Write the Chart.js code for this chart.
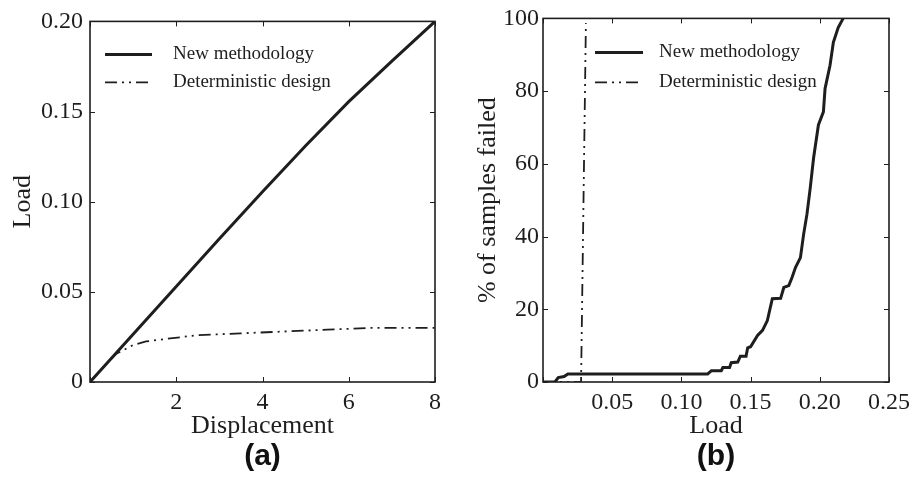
<!DOCTYPE html>
<html>
<head>
<meta charset="utf-8">
<script src="https://cdn.jsdelivr.net/npm/chart.js@4/dist/chart.umd.min.js"></script>
<style>
  body { margin: 0; background: #fff; }
  #wrap { position: relative; width: 916px; height: 486px; }
  canvas { position: absolute; top: 0; }
</style>
</head>
<body>
<div id="wrap">
  <canvas id="chartA" width="458" height="486" style="left:0"></canvas>
  <canvas id="chartB" width="458" height="486" style="left:458px"></canvas>
</div>
<script>
// (a) load vs displacement
var dispNew = [0, 1, 2, 3, 4, 5, 6, 7, 8];
var loadNew = [0, 0.0265, 0.053, 0.0795, 0.1055, 0.131, 0.1555, 0.178, 0.200];
var dispDet = [0, 0.3, 0.6, 0.8, 1.0, 1.3, 1.8, 2.5, 3.5, 4.5, 5.5, 6.5, 8];
var loadDet = [0, 0.008, 0.0155, 0.018, 0.0205, 0.0225, 0.024, 0.026, 0.027, 0.028, 0.029, 0.030, 0.030];

// (b) % of samples failed vs load
var loadFailNew = [0, 0.0086, 0.011, 0.0152, 0.018, 0.119, 0.1217, 0.1288, 0.130, 0.1348, 0.136, 0.1407, 0.1426,
  0.1467, 0.1479, 0.150, 0.155, 0.1586, 0.1621, 0.1657, 0.1717, 0.174, 0.1776, 0.180, 0.1824, 0.186, 0.1883,
  0.1907, 0.1931, 0.1955, 0.199, 0.2026, 0.2038, 0.2074, 0.2098, 0.2133, 0.2169];
var pctFailNew = [0, 0, 1.2, 1.5, 2.2, 2.2, 3.1, 3.1, 4.0, 4.0, 5.3, 5.5, 7.1,
  7.1, 9.4, 9.7, 12.8, 14.2, 16.9, 22.9, 23.0, 26.0, 26.5, 28.8, 31.5, 34.2, 40.6,
  46.1, 53.4, 61.6, 70.7, 74.3, 80.7, 87.1, 93.4, 97.5, 100];
var loadFailDet = [0, 0.0275, 0.031];
var pctFailDet = [0, 0, 98.7];

var seriesNames = ['New methodology', 'Deterministic design'];
var dashDotDot = [12, 5, 2, 5, 2, 5];
var ink = '#1e1e1e';
var serif = 'Liberation Serif';

function toPoints(xs, ys) {
  return xs.map(function(v, i) { return {x: v, y: ys[i]}; });
}

// box around the plot with inward ticks on all four sides, plus legend
function makeDecor(legend) {
  return {
    id: 'decor',
    afterDatasetsDraw: function(chart) {
      var ctx = chart.ctx, a = chart.chartArea;
      var xs = chart.scales.x, ys = chart.scales.y;
      ctx.save();
      ctx.strokeStyle = ink;
      ctx.lineWidth = 1;
      xs.ticks.forEach(function(t) {
        var px = Math.round(xs.getPixelForValue(t.value)) + 0.5;
        ctx.beginPath();
        ctx.moveTo(px, a.bottom); ctx.lineTo(px, a.bottom - 5);
        ctx.moveTo(px, a.top); ctx.lineTo(px, a.top + 5);
        ctx.stroke();
      });
      ys.ticks.forEach(function(t) {
        var py = Math.round(ys.getPixelForValue(t.value)) + 0.5;
        ctx.beginPath();
        ctx.moveTo(a.left, py); ctx.lineTo(a.left + 5, py);
        ctx.moveTo(a.right, py); ctx.lineTo(a.right - 5, py);
        ctx.stroke();
      });
      ctx.lineWidth = 1.6;
      ctx.strokeRect(a.left, a.top, a.right - a.left, a.bottom - a.top);

      // legend
      ctx.font = '19px "' + serif + '"';
      ctx.fillStyle = ink;
      ctx.textBaseline = 'middle';
      chart.data.datasets.forEach(function(ds, i) {
        var y = a.top + legend.y0 + i * legend.dy;
        ctx.beginPath();
        ctx.lineWidth = ds.borderWidth;
        ctx.setLineDash(ds.borderDash || []);
        ctx.moveTo(a.left + legend.x0, y);
        ctx.lineTo(a.left + legend.x1, y);
        ctx.stroke();
        ctx.setLineDash([]);
        ctx.fillText(ds.label, a.left + legend.tx, y);
      });
      ctx.restore();
    }
  };
}

function makeChart(id, cfg) {
  return new Chart(document.getElementById(id), {
    type: 'scatter',
    data: {
      datasets: [{
        label: seriesNames[0],
        data: cfg.newData,
        showLine: true,
        borderColor: ink,
        borderWidth: 3,
        pointRadius: 0,
        tension: 0
      }, {
        label: seriesNames[1],
        data: cfg.detData,
        showLine: true,
        borderColor: ink,
        borderWidth: 1.8,
        borderDash: dashDotDot,
        pointRadius: 0,
        tension: 0
      }]
    },
    options: {
      responsive: false,
      animation: false,
      layout: { padding: { top: cfg.top, right: 23, left: 0, bottom: 0 } },
      plugins: {
        legend: { display: false },
        tooltip: { enabled: false },
        title: {
          display: true,
          text: cfg.label,
          position: 'bottom',
          fullSize: false,
          color: '#111',
          font: { family: 'Liberation Sans', size: 30, weight: 'bold', lineHeight: 1.2 },
          padding: { top: 0, bottom: 11 }
        }
      },
      scales: {
        x: {
          type: 'linear',
          min: cfg.xMin, max: cfg.xMax,
          afterFit: function(s) { s.height = 57; },
          afterBuildTicks: function(s) { s.ticks = cfg.xTicks.map(function(v) { return {value: v}; }); },
          grid: { display: false, drawTicks: false },
          border: { display: false },
          ticks: {
            padding: 6,
            color: ink,
            font: { family: serif, size: 24 },
            callback: cfg.xFmt
          },
          title: {
            display: true, text: cfg.xTitle, color: ink,
            font: { family: serif, size: 26, lineHeight: 1 },
            padding: { top: 0, bottom: 0 }
          }
        },
        y: {
          type: 'linear',
          min: cfg.yMin, max: cfg.yMax,
          afterFit: function(s) { s.width = cfg.yWidth; },
          afterBuildTicks: function(s) { s.ticks = cfg.yTicks.map(function(v) { return {value: v}; }); },
          grid: { display: false, drawTicks: false },
          border: { display: false },
          ticks: {
            padding: cfg.yPad,
            color: ink,
            font: { family: serif, size: 24 },
            callback: cfg.yFmt
          },
          title: {
            display: true, text: cfg.yTitle, color: ink,
            font: { family: serif, size: 26, lineHeight: 1 },
            padding: { top: cfg.yTitlePad, bottom: 0 }
          }
        }
      }
    },
    plugins: [makeDecor(cfg.legend)]
  });
}

makeChart('chartA', {
  label: '(a)',
  newData: toPoints(dispNew, loadNew),
  detData: toPoints(dispDet, loadDet),
  top: 15,
  xMin: 0, xMax: 8, xTicks: [0, 2, 4, 6, 8],
  xFmt: function(v) { return v === 0 ? '' : String(v); },
  yMin: 0, yMax: 0.2, yTicks: [0, 0.05, 0.1, 0.15, 0.2],
  yFmt: function(v) { return v === 0 ? '0' : v.toFixed(2); },
  xTitle: 'Displacement', yTitle: 'Load',
  yWidth: 90, yPad: 7, yTitlePad: 10,
  legend: { x0: 15, x1: 62, tx: 83, y0: 33, dy: 28 }
});

makeChart('chartB', {
  label: '(b)',
  newData: toPoints(loadFailNew, pctFailNew),
  detData: toPoints(loadFailDet, pctFailDet),
  top: 16,
  xMin: 0, xMax: 0.25, xTicks: [0, 0.05, 0.1, 0.15, 0.2, 0.25],
  xFmt: function(v) { return v === 0 ? '' : v.toFixed(2); },
  yMin: 0, yMax: 100, yTicks: [0, 20, 40, 60, 80, 100],
  yFmt: function(v) { return String(v); },
  xTitle: 'Load', yTitle: '% of samples failed',
  yWidth: 85, yPad: 4, yTitlePad: 17,
  legend: { x0: 52, x1: 100, tx: 116, y0: 34, dy: 30 }
});
</script>
</body>
</html>
